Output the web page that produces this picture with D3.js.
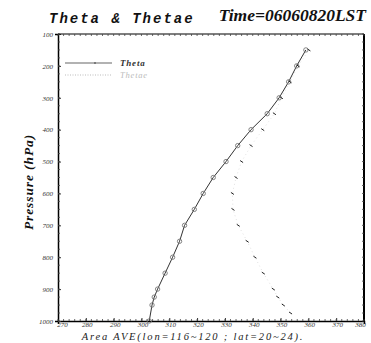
<!DOCTYPE html>
<html><head><meta charset="utf-8">
<script src="https://cdn.jsdelivr.net/npm/d3@7"></script>
<style>body{margin:0;background:#fff}svg{display:block}</style>
</head><body><svg id="c" width="371" height="343"></svg>
<script>
const pressure = [1000, 950, 925, 900, 850, 800, 750, 700, 650, 600, 550, 500, 450, 400, 350, 300, 250, 200, 150];
const theta    = [302.8, 303.8, 304.6, 305.8, 308.5, 311.2, 313.7, 315.5, 319.0, 322.2, 325.8, 330.4, 334.6, 339.4, 345.2, 349.5, 352.9, 355.8, 359.1];
const thetaePressure = [975, 950, 925, 900, 850, 800, 750, 700, 650, 600, 550, 500, 450, 400, 350, 300, 250, 200, 150];
const thetae   = [353.6, 351.0, 349.0, 347.4, 343.8, 340.8, 338.0, 334.8, 332.9, 332.7, 334.0, 336.0, 339.4, 343.6, 347.8, 350.3, 353.4, 356.3, 360.2];
const xTicks = [270, 280, 290, 300, 310, 320, 330, 340, 350, 360, 370, 380];
const yTicks = [100, 200, 300, 400, 500, 600, 700, 800, 900, 1000];

const svg = d3.select("#c");
const L = 58, R = 364, T = 34, B = 321;
const x = d3.scaleLinear().domain([270, 380]).range([L, R]);
const y = d3.scaleLinear().domain([100, 1000]).range([T, B]);
const serif = "'Liberation Serif','DejaVu Serif',serif";

// Axes
const xAxis = d3.axisBottom(x).tickValues(xTicks).tickSize(3).tickFormat(d3.format("d"));
const gx = svg.append("g").attr("transform", `translate(0,${B})`).call(xAxis);
gx.select(".domain").attr("stroke", "#000").attr("stroke-width", 1.5);
gx.selectAll(".tick line").attr("y2", -3).attr("stroke", "#333");
gx.selectAll("text").attr("y", 1.5).attr("x", (d, i) => i === 0 ? 4 : (d === 380 ? -4 : 1))
  .attr("font-family", serif).attr("font-style", "italic")
  .attr("font-size", 7).attr("fill", "#333");

const yAxis = d3.axisLeft(y).tickValues(yTicks).tickSize(3).tickFormat(d3.format("d"));
const gy = svg.append("g").attr("transform", `translate(${L},0)`).call(yAxis);
gy.select(".domain").attr("stroke", "#000").attr("stroke-width", 1.5);
gy.selectAll(".tick line").attr("x2", 3).attr("stroke", "#333");
gy.selectAll("text").attr("x", -5).attr("font-family", serif).attr("font-style", "italic")
  .attr("font-size", 7).attr("fill", "#333");

// top and right frame
svg.append("line").attr("x1", L).attr("x2", R).attr("y1", T).attr("y2", T).attr("stroke", "#000").attr("stroke-width", 1.2);
svg.append("line").attr("x1", R).attr("x2", R).attr("y1", T).attr("y2", B).attr("stroke", "#000").attr("stroke-width", 2);

// minor ticks
const minorX = d3.range(270, 381, 2);
svg.append("g").selectAll("line").data(minorX).join("line")
  .attr("x1", d => x(d)).attr("x2", d => x(d)).attr("y1", B).attr("y2", B - 2).attr("stroke", "#444").attr("stroke-width", 0.8);
svg.append("g").selectAll("line").data(minorX).join("line")
  .attr("x1", d => x(d)).attr("x2", d => x(d)).attr("y1", T).attr("y2", T + 2).attr("stroke", "#444").attr("stroke-width", 0.8);
const minorY = d3.range(100, 1001, 25);
svg.append("g").selectAll("line").data(minorY).join("line")
  .attr("x1", L).attr("x2", L + 2).attr("y1", d => y(d)).attr("y2", d => y(d)).attr("stroke", "#444").attr("stroke-width", 0.8);
svg.append("g").selectAll("line").data(minorY).join("line")
  .attr("x1", R).attr("x2", R - 2).attr("y1", d => y(d)).attr("y2", d => y(d)).attr("stroke", "#444").attr("stroke-width", 0.8);

// Theta line
const line = d3.line().x(d => x(d[0])).y(d => y(d[1]));
const thetaPts = theta.map((t, i) => [t, pressure[i]]);
svg.append("path").datum(thetaPts).attr("d", line).attr("fill", "none").attr("stroke", "#333").attr("stroke-width", 1);
svg.append("g").selectAll("circle").data(thetaPts).join("circle")
  .attr("cx", d => x(d[0])).attr("cy", d => y(d[1])).attr("r", 2.2)
  .attr("fill", "none").attr("stroke", "#777").attr("stroke-width", 0.9);

// Thetae dotted
const thetaePts = thetae.map((t, i) => [t, thetaePressure[i]]);
svg.append("path").datum(thetaePts).attr("d", line).attr("fill", "none")
  .attr("stroke", "#ccc").attr("stroke-width", 0.6).attr("stroke-dasharray", "1,3");
svg.append("g").selectAll("path").data(thetaePts).join("path")
  .attr("d", d => `M${x(d[0]) - 1.5},${y(d[1]) - 1}L${x(d[0]) + 1.5},${y(d[1]) + 1}`)
  .attr("stroke", "#222").attr("stroke-width", 1).attr("fill", "none");

// Legend
svg.append("line").attr("x1", 65).attr("x2", 112).attr("y1", 63).attr("y2", 63).attr("stroke", "#666").attr("stroke-width", 1.2);
svg.append("circle").attr("cx", 95).attr("cy", 63).attr("r", 0.8).attr("fill", "#333");
svg.append("text").attr("x", 120).attr("y", 66).text("Theta").attr("font-family", serif)
  .attr("font-style", "italic").attr("font-weight", "bold").attr("font-size", 9).attr("fill", "#333").attr("letter-spacing", 0.8);
svg.append("line").attr("x1", 65).attr("x2", 112).attr("y1", 75).attr("y2", 75).attr("stroke", "#aaa").attr("stroke-width", 0.8).attr("stroke-dasharray", "1,1.5");
svg.append("text").attr("x", 120).attr("y", 78).text("Thetae").attr("font-family", serif)
  .attr("font-style", "italic").attr("font-size", 8.5).attr("fill", "#bbb").attr("letter-spacing", 0.8);

// Titles
svg.append("text").attr("x", 49).attr("y", 23).text("Theta & Thetae").attr("font-family", "'Liberation Mono','DejaVu Sans Mono',monospace")
  .attr("font-style", "italic").attr("font-weight", "bold").attr("font-size", 14).attr("letter-spacing", 2).attr("fill", "#111");
svg.append("text").attr("x", 366).attr("y", 21).attr("text-anchor", "end").text("Time=06060820LST").attr("font-family", serif)
  .attr("font-style", "italic").attr("font-weight", "bold").attr("font-size", 17.5).attr("fill", "#111");
svg.append("text").attr("transform", `translate(33,182) rotate(-90)`).attr("text-anchor", "middle")
  .text("Pressure (hPa)").attr("font-family", serif).attr("font-style", "italic").attr("font-weight", "bold")
  .attr("font-size", 13.5).attr("letter-spacing", 0.9).attr("fill", "#111");
svg.append("text").attr("x", 193).attr("y", 340).attr("text-anchor", "middle")
  .text("Area AVE(lon=116~120 ; lat=20~24).").attr("font-family", serif).attr("font-style", "italic")
  .attr("font-size", 10.5).attr("fill", "#222").attr("letter-spacing", 1.8);
</script></body></html>
